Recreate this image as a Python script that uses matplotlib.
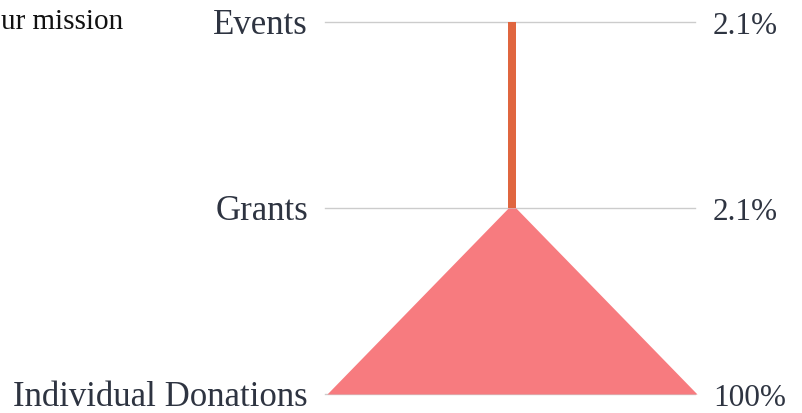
import matplotlib
matplotlib.use("Agg")
import numpy as np
from matplotlib import pyplot as plt

# funnel data (top -> bottom)
stages = ["Events", "Grants", "Individual Donations"]
values = [2.1, 2.1, 100.0]
value_labels = ["2.1%", "2.1%", "100%"]
segment_colors = ["#e0663f", "#f77b7f"]
title = "ur mission"

plt.rcParams["font.family"] = ["Liberation Serif", "DejaVu Serif"]
text_color = "#2e3441"

W, H = 803, 414
fig = plt.figure(figsize=(W / 100, H / 100), dpi=100)

# axes placed so the rows sit on the gridlines of the reference
left, right, top, bottom = 327, 697, 23, 395
ax = fig.add_axes([left / W, (H - bottom) / H, (right - left) / W, (bottom - top) / H])
ax.set_xlim(-50, 50)
ax.set_ylim(len(stages) - 1, 0)
ax.axis("off")

# gridlines at each stage
for i in range(len(stages)):
    ax.plot([-50.5, 49.5], [i, i], color="#cccccc", lw=1, zorder=1,
            clip_on=False)

# segments: each one goes from stage i width to stage i+1 width
for i in range(len(stages) - 1):
    ys = np.array([i, i + 1])
    half = np.array([values[i], values[i + 1]]) / 2
    ax.fill_betweenx(ys, -half, half, color=segment_colors[i], lw=0, zorder=2)

# labels either side
for i, (name, lab) in enumerate(zip(stages, value_labels)):
    ax.annotate(name, xy=(0, i), xycoords=("axes fraction", "data"),
                xytext=(-19, -3), textcoords="offset pixels",
                ha="right", va="center", fontsize=25, color=text_color)
    ax.annotate(lab, xy=(1, i), xycoords=("axes fraction", "data"),
                xytext=(16, -4), textcoords="offset pixels",
                ha="left", va="center", fontsize=22.5, color=text_color)

# title (only its tail is visible in the reference)
fig.text(1 / W, (H - 22) / H, title, ha="left", va="center",
         fontsize=21, color="#111111")

fig.savefig("out.png", dpi=100)
